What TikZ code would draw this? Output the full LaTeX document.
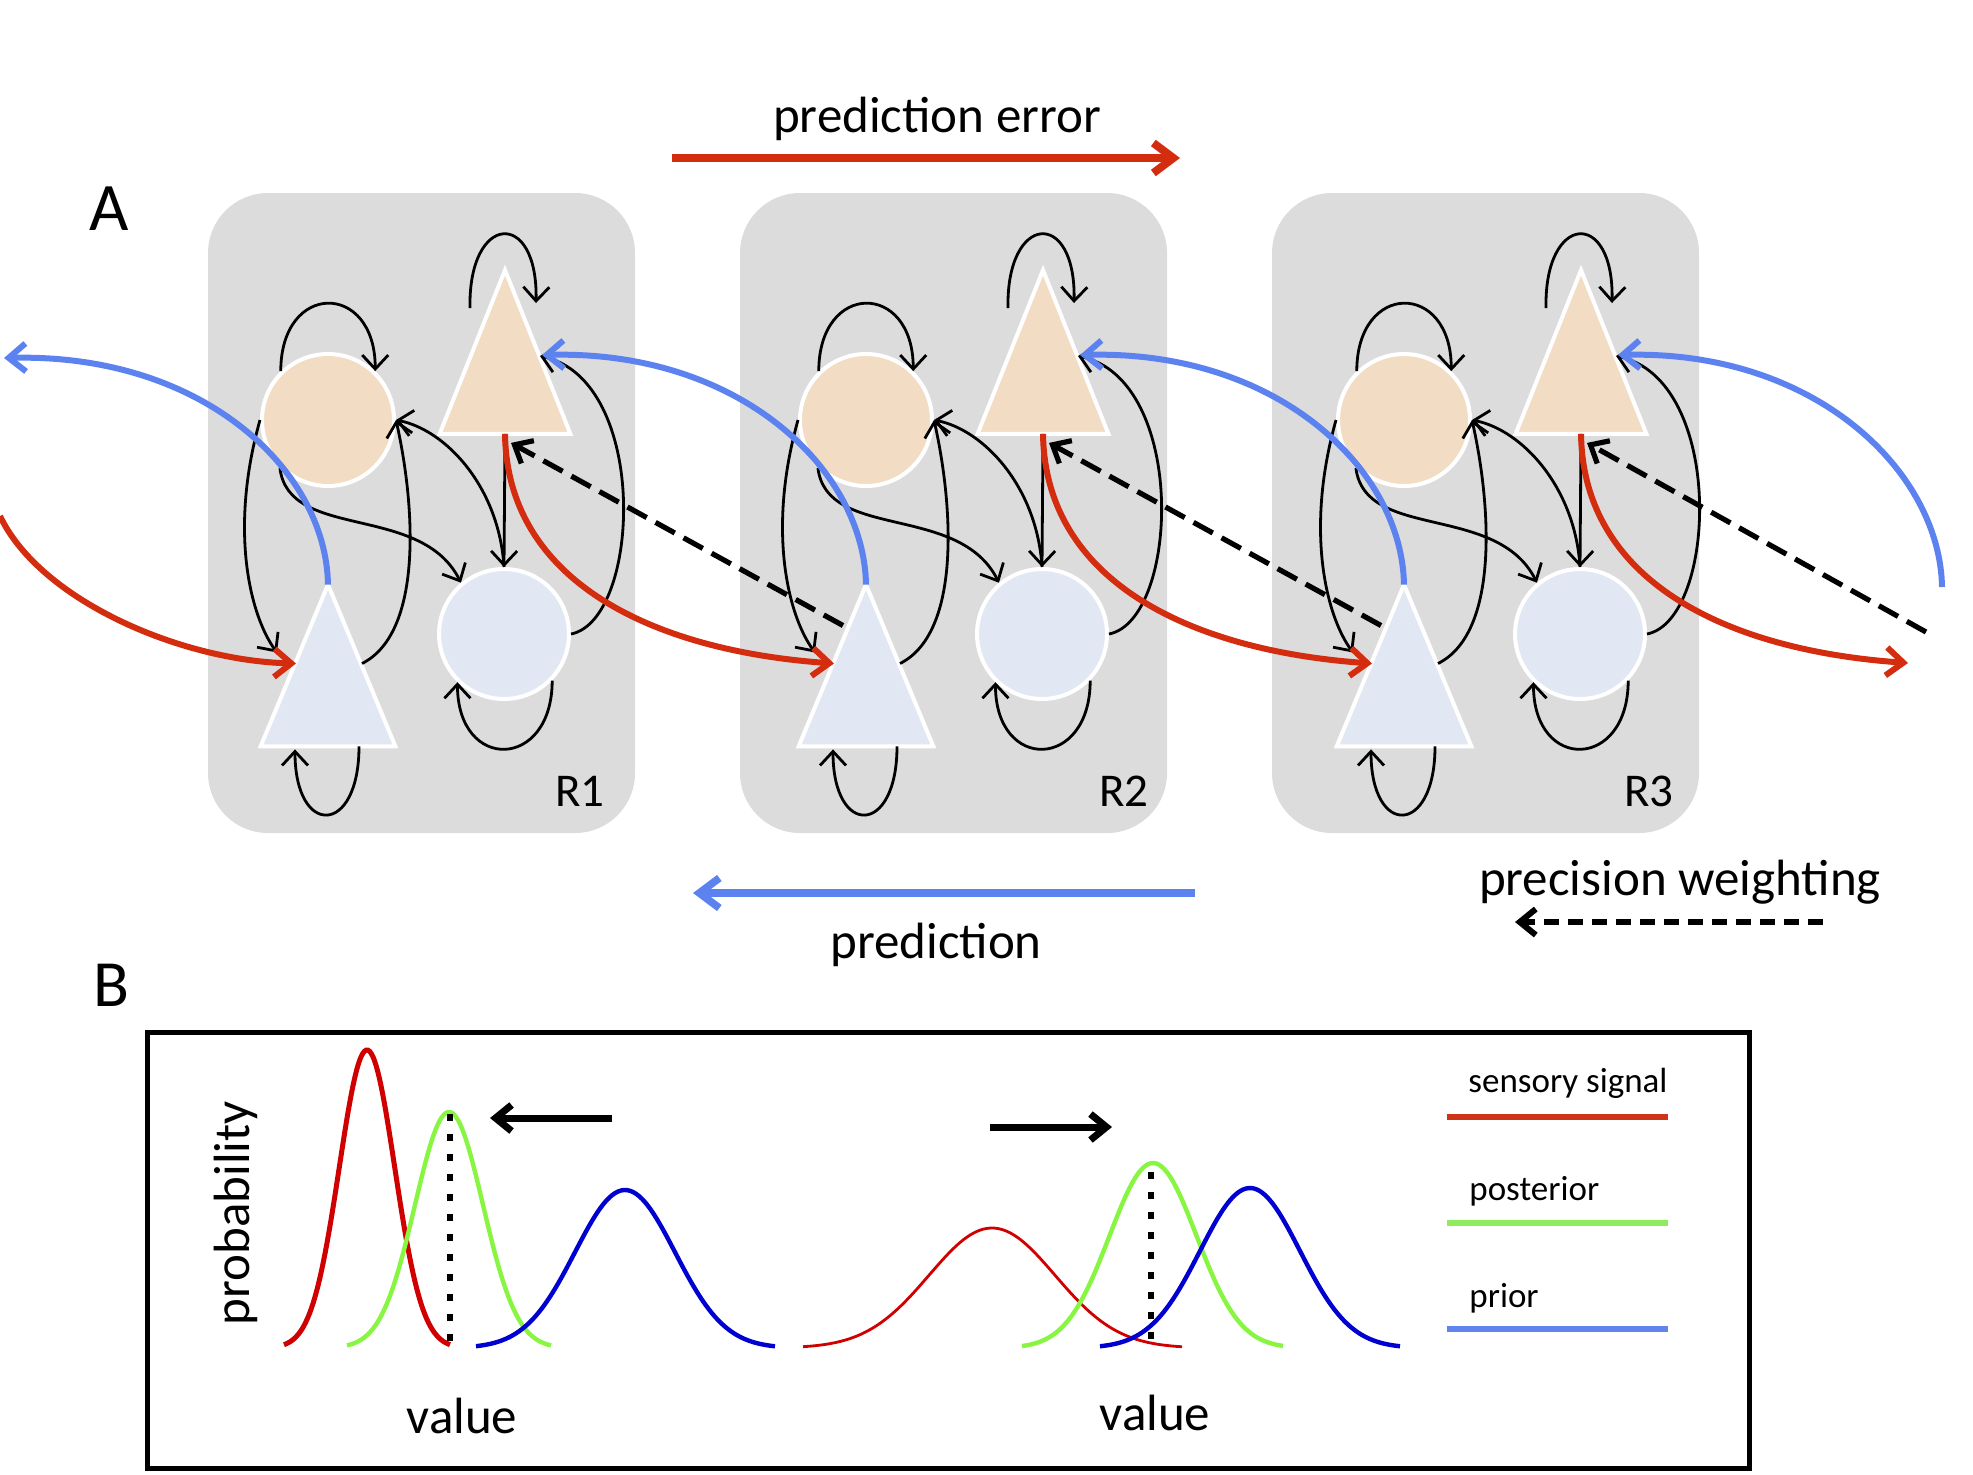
\documentclass[tikz,border=0pt]{standalone}
\usepackage{fontspec}
\setmainfont{Carlito}
\usepackage{tikz}
\usetikzlibrary{arrows.meta, positioning}

\definecolor{boxgray}{RGB}{220,220,220}
\definecolor{tanfill}{RGB}{242,220,196}
\definecolor{palefill}{RGB}{226,232,243}
\definecolor{errred}{RGB}{212,44,14}
\definecolor{predblue}{RGB}{92,130,240}
\definecolor{curvered}{RGB}{208,0,0}
\definecolor{curvegreen}{RGB}{135,245,65}
\definecolor{curveblue}{RGB}{0,0,208}
\definecolor{keyred}{RGB}{208,52,24}
\definecolor{keygreen}{RGB}{145,235,95}
\definecolor{keyblue}{RGB}{96,132,236}

\begin{document}
\begin{tikzpicture}[x=0.5pt,y=0.5pt,yscale=-1,
  regbox/.style={rectangle, fill=boxgray, rounded corners=30pt, minimum width=213.5pt, minimum height=320pt, inner sep=0pt},
  tancirc/.style={circle, fill=tanfill, draw=white, line width=2pt, minimum size=66pt, inner sep=0pt},
  palecirc/.style={circle, fill=palefill, draw=white, line width=2pt, minimum size=65pt, inner sep=0pt},
  trihold/.style={rectangle, minimum width=65pt, minimum height=81.5pt, inner sep=0pt},
  triside/.style={draw=white, line width=2pt},
  wire/.style={line width=1.4pt, -{Straight Barb[length=7pt,width=13pt]}},
  errarr/.style={errred, line width=3pt, -{Straight Barb[length=8.5pt,width=14pt]}},
  predarr/.style={predblue, line width=3pt, -{Straight Barb[length=8.5pt,width=14pt]}},
  precarr/.style={line width=2.6pt, dash pattern=on 11pt off 5pt, -{Straight Barb[length=7.5pt,width=13pt]}},
  lbl/.style={inner sep=0pt, font=\fontsize{25.5}{30}\selectfont},
  keylbl/.style={inner sep=0pt, anchor=base west, font=\fontsize{17.5}{21}\selectfont},
  keyln/.style={line width=3pt},
  dotln/.style={line width=2.6pt, dash pattern=on 3.5pt off 6.5pt},
  shiftarr/.style={line width=3.5pt, -{Straight Barb[length=8pt,width=13pt]}}
]
\useasboundingbox (0,0) rectangle (1973,1474);

% Regions R1--R3
\foreach \k/\rx [evaluate=\k as \dx using 538*(\k-1), evaluate=\k as \bx using 532*(\k-1)] in {1/605,2/1149,3/1674}
{
  \node[regbox] (reg\k) at (421.5+\bx,513) {};
  \node[lbl, anchor=base east, font=\fontsize{23.5}{28}\selectfont] (rl\k) at (\rx,806) {R\k};
  \node[tancirc] (pc\k) at (328+\dx,420) {};
  \node[palecirc] (bc\k) at (504+\dx,634) {};
  \node[trihold] (pt\k) at (505+\dx,352) {};
  \node[trihold, minimum width=67pt, minimum height=80.5pt] (bt\k) at (328+\dx,665.5) {};
  \filldraw[triside, fill=tanfill] (pt\k.south west) -- (pt\k.north) -- (pt\k.south east) -- cycle;
  \filldraw[triside, fill=palefill] (bt\k.south west) -- (bt\k.north) -- (bt\k.south east) -- cycle;
  % self connections
  \draw[wire] (pc\k.134) .. controls +(0,-90) and +(0,-90) .. (pc\k.46);
  \draw[wire] ([shift={(-35,-44)}]pt\k.center) .. controls +(-2,-95) and +(2,-95) .. ([shift={(31,-49)}]pt\k.center);
  \draw[wire] (bc\k.-44) .. controls +(0,90) and +(0,90) .. (bc\k.-134);
  \draw[wire] ([shift={(31,0)}]bt\k.south) .. controls +(0,90) and +(0,88) .. ([shift={(-33,3)}]bt\k.south);
  % inside the region
  \draw[wire] (pc\k.west) .. controls +(-31,110) and +(-27,-37) .. ([shift={(-51,-13)}]bt\k.center);
  \draw[wire] ([shift={(34,-2)}]bt\k.center) .. controls +(60,-30) and +(20,90) .. (pc\k.east);
  \draw[wire] (bc\k.north) .. controls +(-5,-80) and +(50,10) .. (pc\k.east);
  \draw[wire] (pt\k.south) -- (bc\k.north);
  \draw[wire] (pc\k.225) .. controls +(9,73) and +(-40,-80) .. (bc\k.130);
  \draw[wire] (bc\k.east) .. controls +(70,-14) and +(110,24) .. ([shift={(35,4)}]pt\k.center);
}

% free ends
\coordinate (predL) at (4,358);
\coordinate (predR) at (1942,587);
\coordinate (errL) at (0,516);
\coordinate (errR) at (1908,663);
\coordinate (precR) at (1926,632);

% prediction error
\draw[errarr] (errL) .. controls +(40,84) and +(-116,-3) .. ([shift={(-32,-2)}]bt1.center);
\foreach \k/\n in {1/2,2/3}
  \draw[errarr] (pt\k.south) .. controls +(2,146) and +(-184,-13) .. ([shift={(-32,-2)}]bt\n.center);
\draw[errarr] (pt3.south) .. controls +(2,146) and +(-184,-13) .. (errR);

% prediction
\draw[predarr] (bt1.north) .. controls +(-2,-115) and +(198,-5) .. (predL);
\foreach \k/\n in {2/1,3/2}
  \draw[predarr] (bt\k.north) .. controls +(-2,-115) and +(198,-5) .. ([shift={(37,3)}]pt\n.center);
\draw[predarr] (predR) .. controls +(-2,-115) and +(198,-5) .. ([shift={(37,3)}]pt3.center);

% precision weighting
\foreach \k/\n in {2/1,3/2}
  \draw[precarr] ([shift={(-23,-40)}]bt\k.center) -- ([shift={(6,9)}]pt\n.south);
\draw[precarr] (precR) -- ([shift={(6,9)}]pt3.south);

% Text Node
\node[lbl, font=\fontsize{34}{40}\selectfont] (capA) at (109,209) {A};
% Text Node
\node[lbl, anchor=base] (txterr) at (937,132) {prediction error};
\coordinate (pe0) at (672,158); \coordinate (pe1) at (1180,158);
\draw[errarr, line width=4pt, -{Straight Barb[length=10pt,width=15pt]}] (pe0) -- (pe1);
% Text Node
\node[lbl, anchor=base] (txtpred) at (936,958) {prediction};
\coordinate (pr0) at (1195,893); \coordinate (pr1) at (693,893);
\draw[predarr, line width=3.8pt, -{Straight Barb[length=10pt,width=15pt]}] (pr0) -- (pr1);
% Text Node
\node[lbl, anchor=base] (txtprec) at (1680,895) {precision weighting};
\coordinate (pw0) at (1823,922); \coordinate (pw1) at (1515,922);
\draw[precarr, line width=3pt, dash pattern=on 7.5pt off 4.5pt, -{Straight Barb[length=8pt,width=13pt]}] (pw0) -- (pw1);

% Panel B
% Text Node
\node[lbl, font=\fontsize{33}{38}\selectfont] (capB) at (111,985) {B};
\draw[line width=2.5pt] (147,1032) rectangle (1749,1468);

\foreach \a/\b/\m/\s/\h/\c/\w in {
  284/450/367/27.7/298/curvered/2.5pt,
  347/551/449/34/236/curvegreen/2.2pt,
  476/775/625/50/158/curveblue/2.2pt,
  803/1182/992/63/120/curvered/1.4pt,
  1022/1283/1153/43.5/185/curvegreen/2.2pt,
  1100/1400/1250/50/160/curveblue/2.2pt}
  \draw[\c, line width=\w] plot[domain=\a:\b, samples=100, smooth] (\x,{1348-\h*exp(-0.5*((\x-\m)/\s)^2)});

\draw[dotln] (450,1114) -- (450,1348);
\draw[dotln] (1151,1172) -- (1151,1346);

\coordinate (ls0) at (612,1118); \coordinate (ls1) at (490,1118);
\draw[shiftarr] (ls0) -- (ls1);
\coordinate (rs0) at (990,1127); \coordinate (rs1) at (1112,1127);
\draw[shiftarr] (rs0) -- (rs1);

% Text Node
\node[lbl, rotate=90] (ylab) at (236,1213) {probability};
% Text Node
\node[lbl, anchor=base] (xlab1) at (462,1433) {value};
% Text Node
\node[lbl, anchor=base] (xlab2) at (1155,1430) {value};

% legend
\node[keylbl] (keysens) at (1468,1092) {sensory signal};
\draw[keyln, keyred] (1447,1117) -- (1668,1117);
\node[keylbl] (keypost) at (1469,1200) {posterior};
\draw[keyln, keygreen] (1447,1223) -- (1668,1223);
\node[keylbl] (keyprior) at (1469,1307) {prior};
\draw[keyln, keyblue] (1447,1329) -- (1668,1329);

\end{tikzpicture}
\end{document}
